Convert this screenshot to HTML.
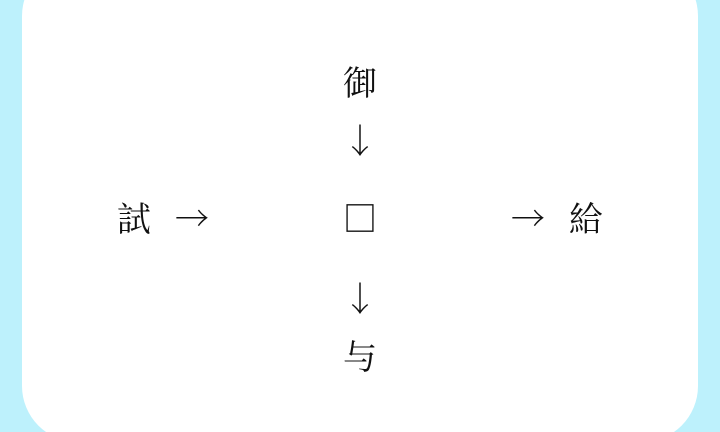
<!DOCTYPE html>
<html><head><meta charset="utf-8"><style>
html,body{margin:0;padding:0;width:720px;height:432px;overflow:hidden}
body{background:#bdf1fc}
.wrap{position:relative;width:720px;height:432px;overflow:hidden}
.card{position:absolute;left:22px;top:-40px;width:676px;height:482px;background:#fff;border-radius:56px}
.t{position:absolute;width:60px;height:60px;margin:-29px 0 0 -30px;display:flex;align-items:center;justify-content:center;font-family:"Noto Serif CJK SC","Noto Serif CJK JP",serif;font-size:34px;color:#111;line-height:1}
</style></head><body><div class="wrap">
<div class="card"></div>
<div class="t" style="left:360px;top:80px">御</div>
<div class="t" style="left:360px;top:138px">↓</div>
<div class="t" style="left:360px;top:216px">□</div>
<div class="t" style="left:360px;top:296px">↓</div>
<div class="t" style="left:360px;top:354px">与</div>
<div class="t" style="left:134px;top:216px">試</div>
<div class="t" style="left:192px;top:216px">→</div>
<div class="t" style="left:528px;top:216px">→</div>
<div class="t" style="left:586px;top:216px">給</div>
</div></body></html>
